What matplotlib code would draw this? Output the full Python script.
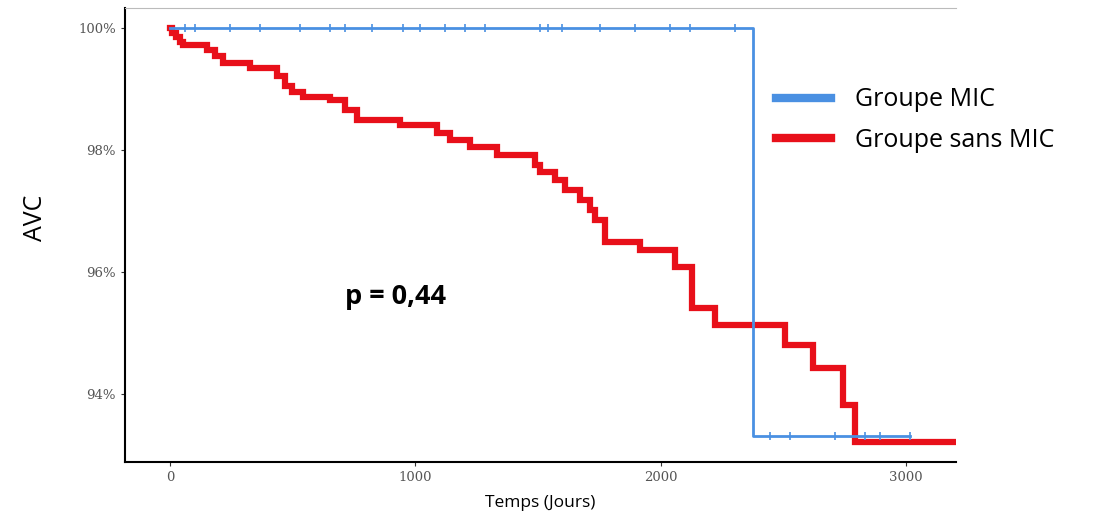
import matplotlib
matplotlib.use('Agg')
import matplotlib.pyplot as plt
from matplotlib.lines import Line2D

# Kaplan-Meier steps (time in days, survival in %)
mic_times = [0, 2377, 3017]
mic_surv = [100.0, 93.31, 93.31]
mic_censor = [61, 102, 245, 367, 530, 652, 713, 823, 950, 1019, 1121, 1203, 1284,
              1508, 1541, 1598, 1753, 1896, 2038, 2120, 2303,
              2446, 2528, 2711, 2833, 2894, 3017]

sans_times = [0, 8, 24, 41, 53, 151, 183, 216, 326, 436, 469, 497, 542, 652, 713, 762,
              938, 1088, 1141, 1223, 1333, 1488, 1508, 1569, 1610, 1671, 1712, 1733,
              1773, 1916, 2059, 2128, 2222, 2507, 2621, 2744, 2793, 3200]
sans_surv = [100.0, 99.92, 99.84, 99.77, 99.72, 99.64, 99.54, 99.43, 99.34, 99.21, 99.05,
             98.95, 98.87, 98.82, 98.66, 98.49, 98.41, 98.28, 98.16, 98.05, 97.92, 97.75,
             97.64, 97.51, 97.34, 97.18, 97.02, 96.85, 96.49, 96.36, 96.08, 95.41, 95.13,
             94.80, 94.43, 93.82, 93.21, 93.21]

yticks = [94, 96, 98, 100]
ytick_labels = ['94%', '96%', '98%', '100%']
xticks = [0, 1000, 2000, 3000]

blue = '#4a90e2'
red = '#e8101a'

fig = plt.figure(figsize=(10.99, 5.19), dpi=100)
ax = fig.add_axes([0.1137, 0.1098, 0.7563, 0.8756])

ax.step(sans_times, sans_surv, where='post', color=red, lw=4.5, solid_joinstyle='miter')
ax.step(mic_times, mic_surv, where='post', color=blue, lw=2)

# censor marks on the blue curve
mic_censor_y = [100.0 if t < 2377 else 93.31 for t in mic_censor]
ax.plot(mic_censor, mic_censor_y, ls='none', marker='|', ms=6, mew=1.2, color=blue)

ax.set_xlim(-183, 3204)
ax.set_ylim(92.885, 100.33)
ax.set_xticks(xticks)
ax.set_yticks(yticks)
ax.set_yticklabels(ytick_labels)
ax.tick_params(axis='both', colors='#333333', labelcolor='#555555', length=3,
               labelsize=9.5)
for lab in ax.get_xticklabels() + ax.get_yticklabels():
    lab.set_family('DejaVu Serif')

ax.spines['right'].set_visible(False)
ax.spines['top'].set_color('#bbbbbb')
ax.spines['left'].set_linewidth(1.5)
ax.spines['bottom'].set_linewidth(1.5)

ax.set_xlabel('Temps (Jours)', fontsize=12.5, family='Open Sans', labelpad=8)
fig.text(0.032, 0.58, 'AVC', rotation=90, fontsize=18, family='Open Sans',
         ha='center', va='center')

fig.text(0.36, 0.427, 'p = 0,44', fontsize=19.5, fontweight='bold', family='Open Sans',
         ha='center', va='center')

handles = [Line2D([0], [0], color=blue, lw=6), Line2D([0], [0], color=red, lw=6)]
fig.legend(handles, ['Groupe MIC', 'Groupe sans MIC'], loc='upper left',
           bbox_to_anchor=(0.686, 0.875), frameon=False,
           prop={'family': 'Open Sans', 'size': 18}, handlelength=2.2,
           handletextpad=0.95, labelspacing=0.62)

fig.savefig('out.png', dpi=100)
